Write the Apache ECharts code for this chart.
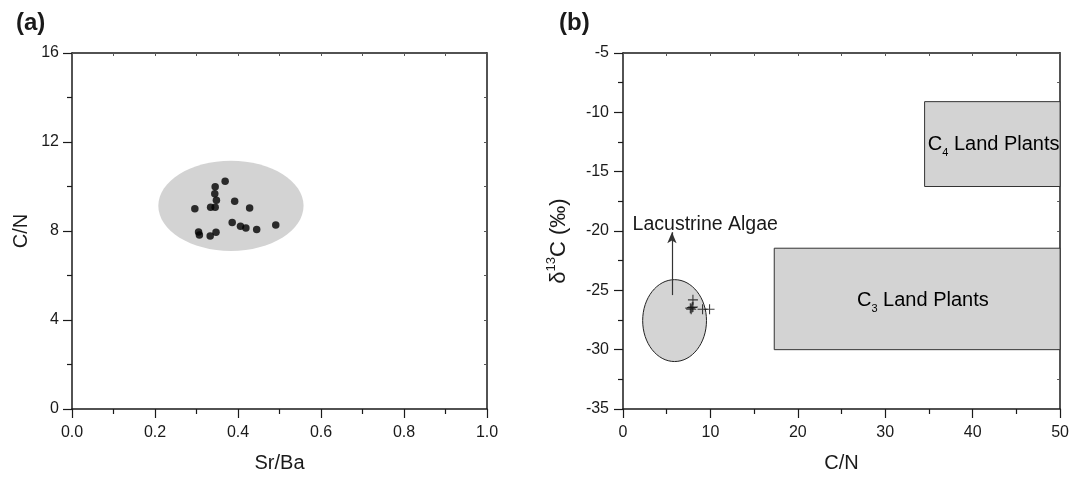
<!DOCTYPE html>
<html>
<head>
<meta charset="utf-8">
<script src="https://cdn.jsdelivr.net/npm/echarts@6/dist/echarts.min.js"></script>
<style>
  html, body { margin: 0; padding: 0; background: #fff; }
  #chart { width: 1072px; height: 478px; }
</style>
</head>
<body>
<div id="chart"></div>
<script>
// Panel (a): Sr/Ba vs C/N of the samples
const srBa = [0.369, 0.345, 0.344, 0.348, 0.392, 0.296, 0.334, 0.345, 0.428,
              0.386, 0.406, 0.419, 0.445, 0.491, 0.305, 0.307, 0.333, 0.347];
const cnA  = [10.24, 9.99, 9.67, 9.38, 9.34, 9.00, 9.07, 9.07, 9.03,
              8.38, 8.21, 8.13, 8.07, 8.27, 7.95, 7.82, 7.77, 7.94];
// Sample field in panel (a): centre x, centre y, radius x, radius y
const fieldA = [0.383, 9.13, 0.175, 2.03];

// Panel (b): C/N vs δ13C of the samples
const cnB  = [8.0, 7.9, 7.7, 8.0, 7.8, 9.1, 9.9];
const d13C = [-25.8, -26.45, -26.5, -26.4, -26.6, -26.6, -26.6];
// Lacustrine algae field: centre x, centre y, radius x, radius y
const algaeField = [5.9, -27.55, 3.65, 3.45];
// Land plant source fields: [C/N min, C/N max, δ13C min, δ13C max]
const c4Field = [34.5, 50, -16.25, -9.1];
const c3Field = [17.3, 50, -30.0, -21.45];
// Arrow from the algae field: C/N, δ13C start, δ13C end
const algaeArrow = [5.6, -25.4, -20.1];

const FONT = '"Liberation Sans", Arial, sans-serif';
const INK = '#1a1a1a';

function baseAxis(extra) {
  return Object.assign({
    type: 'value',
    axisLine: { show: true, onZero: false, lineStyle: { color: INK, width: 1.5 } },
    axisTick: { show: true, inside: false, length: 9, lineStyle: { color: INK, width: 1.2 } },
    minorTick: { show: true, splitNumber: 2, length: 5, lineStyle: { color: INK, width: 1.2 } },
    axisLabel: { color: INK, fontSize: 16, fontFamily: FONT },
    splitLine: { show: false },
    nameTextStyle: { color: INK, fontSize: 20, fontFamily: FONT }
  }, extra);
}
function mirrorAxis(extra) {
  return Object.assign({
    type: 'value',
    axisLine: { show: true, onZero: false, lineStyle: { color: INK, width: 1.5 } },
    axisTick: { show: true, inside: true, length: 3, lineStyle: { color: '#555', width: 1 } },
    axisLabel: { show: false },
    splitLine: { show: false }
  }, extra);
}

const ellipseItem = (fill, stroke) => function (params, api) {
  const c = api.coord([api.value(0), api.value(1)]);
  const s = api.size([api.value(2), api.value(3)]);
  return {
    type: 'ellipse',
    shape: { cx: c[0], cy: c[1], rx: s[0], ry: s[1] },
    style: { fill: fill, stroke: stroke, lineWidth: stroke ? 1 : 0 }
  };
};

const plantRich = {
  m: { fontSize: 20, fontFamily: FONT, color: INK, lineHeight: 28 },
  s: { fontSize: 11, fontFamily: FONT, color: INK, lineHeight: 10, verticalAlign: 'bottom' }
};

function boxItem(params, api) {
  const p0 = api.coord([api.value(0), api.value(3)]);
  const p1 = api.coord([api.value(1), api.value(2)]);
  const lab = api.coord([api.value(4), api.value(5)]);
  const sub = params.dataIndex === 0 ? '4' : '3';
  return {
    type: 'group',
    children: [
      {
        type: 'rect',
        shape: { x: p0[0], y: p0[1], width: p1[0] - p0[0], height: p1[1] - p0[1] },
        style: { fill: '#d3d3d3', stroke: '#333', lineWidth: 1 }
      },
      {
        type: 'text',
        x: lab[0], y: lab[1],
        style: {
          text: '{m|C}{s|' + sub + '}{m| Land Plants}',
          rich: plantRich,
          align: 'center', verticalAlign: 'middle'
        }
      }
    ]
  };
}

const chart = echarts.init(document.getElementById('chart'), null, { renderer: 'canvas' });
chart.setOption({
  animation: false,
  backgroundColor: '#fff',
  title: [
    { text: '(a)', left: 11, top: 6, textStyle: { fontSize: 24, fontWeight: 'bold', fontFamily: FONT, color: INK } },
    { text: '(b)', left: 554, top: 6, textStyle: { fontSize: 24, fontWeight: 'bold', fontFamily: FONT, color: INK } }
  ],
  grid: [
    { left: 72, right: 585, top: 53, bottom: 65 },
    { left: 623, right: 9, top: 53, bottom: 65 }
  ],
  xAxis: [
    baseAxis({
      gridIndex: 0, min: 0, max: 1, interval: 0.2,
      name: 'Sr/Ba', nameLocation: 'middle', nameGap: 44,
      axisLabel: { color: INK, fontSize: 16, fontFamily: FONT, margin: 16, formatter: v => v.toFixed(1) }
    }),
    mirrorAxis({ gridIndex: 0, position: 'top', min: 0, max: 1, interval: 0.1 }),
    baseAxis({
      gridIndex: 1, min: 0, max: 50, interval: 10,
      name: 'C/N', nameLocation: 'middle', nameGap: 44,
      axisLabel: { color: INK, fontSize: 16, fontFamily: FONT, margin: 16 }
    }),
    mirrorAxis({ gridIndex: 1, position: 'top', min: 0, max: 50, interval: 5 })
  ],
  yAxis: [
    baseAxis({
      gridIndex: 0, min: 0, max: 16, interval: 4,
      name: 'C/N', nameLocation: 'middle', nameRotate: 90, nameGap: 41,
      axisLabel: { color: INK, fontSize: 16, fontFamily: FONT, margin: 13 }
    }),
    mirrorAxis({ gridIndex: 0, position: 'right', min: 0, max: 16, interval: 2 }),
    baseAxis({
      gridIndex: 1, min: -35, max: -5, interval: 5,
      name: '{n|δ}{sup|13}{n|C (‰)}', nameLocation: 'middle', nameRotate: 90, nameGap: 50,
      nameTextStyle: {
        color: INK, fontFamily: FONT, padding: [0, 20, 0, 0],
        rich: {
          n: { fontSize: 22, fontFamily: FONT, color: INK, lineHeight: 28 },
          sup: { fontSize: 13, fontFamily: FONT, color: INK, lineHeight: 13, verticalAlign: 'top' }
        }
      },
      axisLabel: { color: INK, fontSize: 16, fontFamily: FONT, margin: 14 }
    }),
    mirrorAxis({ gridIndex: 1, position: 'right', min: -35, max: -5, interval: 2.5 })
  ],
  series: [
    {
      type: 'custom', xAxisIndex: 0, yAxisIndex: 0, silent: true, z: 1,
      renderItem: ellipseItem('#d3d3d3', null),
      data: [fieldA]
    },
    {
      type: 'scatter', xAxisIndex: 0, yAxisIndex: 0, z: 3,
      symbol: 'circle', symbolSize: 7.5,
      itemStyle: { color: '#000' },
      data: srBa.map((x, i) => [x, cnA[i]])
    },
    {
      type: 'custom', xAxisIndex: 2, yAxisIndex: 2, silent: true, z: 1,
      renderItem: boxItem,
      data: [
        c4Field.concat([42.4, -12.75]),
        c3Field.concat([34.3, -25.85])
      ]
    },
    {
      type: 'custom', xAxisIndex: 2, yAxisIndex: 2, silent: true, z: 1,
      renderItem: ellipseItem('#d4d4d4', '#222'),
      data: [algaeField]
    },
    {
      type: 'line', xAxisIndex: 2, yAxisIndex: 2, silent: true, z: 2,
      data: [],
      markLine: {
        silent: true, animation: false,
        symbol: ['none', 'arrow'], symbolSize: [7, 11],
        label: { show: false },
        lineStyle: { color: '#333', width: 1.2, type: 'solid' },
        data: [[
          { coord: [algaeArrow[0], algaeArrow[1]] },
          { coord: [algaeArrow[0], algaeArrow[2]] }
        ]]
      }
    },
    {
      type: 'custom', xAxisIndex: 2, yAxisIndex: 2, silent: true, z: 3,
      renderItem: function (params, api) {
        const p = api.coord([api.value(0), api.value(1)]);
        return {
          type: 'text', x: p[0], y: p[1],
          style: { text: 'Lacustrine Algae', font: '19.5px ' + FONT, fill: INK, align: 'left', verticalAlign: 'middle' }
        };
      },
      data: [[1.1, -19.5]]
    },
    {
      type: 'scatter', xAxisIndex: 2, yAxisIndex: 2, z: 4,
      symbol: 'path://M0,5L10,5M5,0L5,10', symbolSize: 10,
      itemStyle: { color: 'none', borderColor: '#111', borderWidth: 1.1 },
      data: cnB.map((x, i) => [x, d13C[i]])
    }
  ]
});
</script>
</body>
</html>
